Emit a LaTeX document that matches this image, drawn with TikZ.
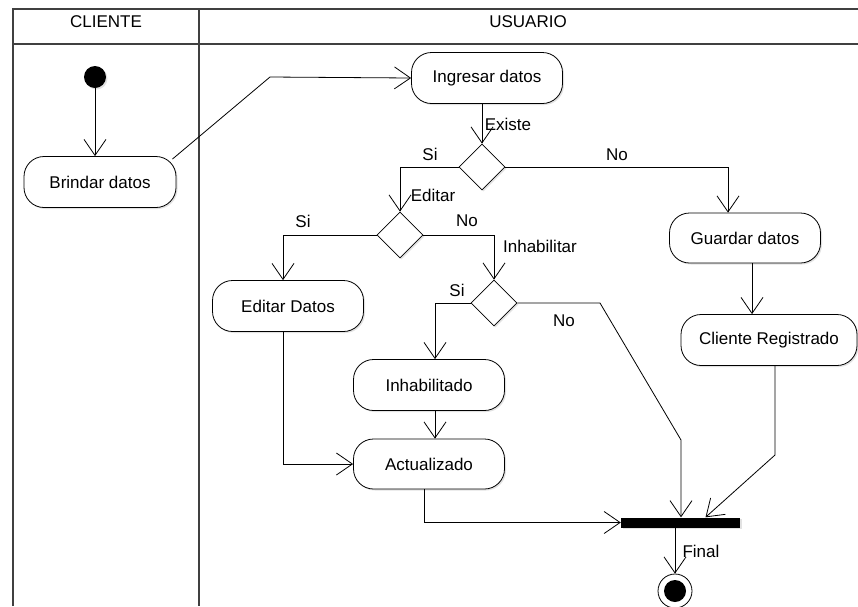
\documentclass[tikz,border=0pt]{standalone}
\usepackage{fontspec}
\setmainfont{Liberation Sans}
\usetikzlibrary{arrows.meta,shapes.geometric,shadows}
\begin{document}
\begin{tikzpicture}[x=1pt,y=-1pt,
  lane/.style={draw=black!75,line width=1.3pt},
  shade/.style={drop shadow={shadow xshift=1.5pt,shadow yshift=-1.5pt,fill=black!22}},
  activity/.style={draw,line width=0.8pt,rounded corners=20pt,minimum height=51pt,
    minimum width=151pt,inner sep=0pt,fill=white,shade,font=\fontsize{17}{20}\selectfont},
  choice/.style={diamond,draw,line width=0.8pt,minimum width=46pt,minimum height=46pt,
    inner sep=0pt,fill=white,shade},
  flow/.style={draw,line width=0.8pt,-{Straight Barb[length=16pt,width=22pt,line width=0.8pt]}},
  plain/.style={draw,line width=0.8pt},
  guard/.style={font=\fontsize{17}{20}\selectfont,inner sep=0pt},
]
\clip (0,0) rectangle (858,606);
\fill[white] (0,0) rectangle (858,606);

% swimlanes
\draw[lane] (13,606) -- (13,9) -- (858,9);
\draw[lane] (13,44) -- (858,44);
\draw[lane] (199,9) -- (199,606);
\node[guard] (laneA) at (106,22) {CLIENTE};
\node[guard] (laneB) at (528,22) {USUARIO};

% nodes
\node[circle,fill=black,minimum size=22pt,inner sep=0pt,shade] (start) at (95,77) {};
\node[activity,minimum width=152pt] (brindar) at (100,182) {Brindar datos};
\node[activity] (ingresar) at (487,78) {Ingresar datos};
\node[choice] (d1) at (482,167) {};
\node[choice] (d2) at (400,235) {};
\node[choice] (d3) at (494,303) {};
\node[activity,minimum height=50pt] (guardar) at (745,238) {Guardar datos};
\node[activity,minimum width=176pt] (cliente) at (769,340) {Cliente Registrado};
\node[activity] (editar) at (288,306) {Editar Datos};
\node[activity] (inhab) at (429,385) {Inhabilitado};
\node[activity,minimum height=50pt] (actual) at (429,464) {Actualizado};
\node[fill=black,minimum width=119pt,minimum height=10pt,inner sep=0pt,shade] (bar) at (680.5,522.5) {};
\node[circle,draw,line width=0.8pt,fill=white,minimum size=34pt,inner sep=0pt,
  path picture={\fill[black] (path picture bounding box.center) circle (11pt);}] (final) at (675,591) {};

% helper points on node borders
\coordinate (g1) at ([xshift=7pt]guardar.south);
\coordinate (c1) at ([xshift=6pt]cliente.south);
\coordinate (e1) at ([xshift=-5pt]editar.north);
\coordinate (e2) at ([xshift=-5pt]editar.south);
\coordinate (i1) at ([xshift=6pt]inhab.north);
\coordinate (i2) at ([xshift=6pt]inhab.south);
\coordinate (a1) at ([xshift=-5pt]actual.south);
\coordinate (gn) at ([xshift=-17pt]guardar.north);
\coordinate (b1) at ([xshift=25pt]bar.north);
\coordinate (b2) at ([xshift=-5.5pt]bar.south);

% connectors
\draw[flow] (start) -- (start |- brindar.north);
\draw[flow] ([shift={(-4,3)}]brindar.north east) -- (270,77) -- (ingresar.west);
\draw[flow] (d1.north |- ingresar.south) -- (d1.north);
\draw[flow] (d1.west) -| (d2.north);
\draw[flow] (d1.east) -| (gn);
\draw[flow] (g1) -- (g1 |- cliente.north);
\draw[flow] (c1) -- (775,455) -- (b1);
\draw[flow] (d2.west) -| (e1);
\draw[flow] (d2.east) -| (d3.north);
\draw[flow] (d3.west) -| (i1);
\draw[flow] (d3.east) -- (600,303) -- (681,440) -- (bar.north -| 681,0);
\draw[flow] (i2) -- (i2 |- actual.north);
\draw[flow] (e2) |- (actual.west);
\draw[flow] (a1) |- (bar.west);
\draw[flow] (b2) -- (b2 |- final.north);

% guard labels
\node[guard] (lExiste) at (508,124) {Existe};
\node[guard] (lSi1) at (430,154) {Si};
\node[guard] (lNo1) at (617,155) {No};
\node[guard] (lEditar) at (433,195) {Editar};
\node[guard] (lSi2) at (303,221) {Si};
\node[guard] (lNo2) at (467,221) {No};
\node[guard] (lInhab) at (540,246) {Inhabilitar};
\node[guard] (lSi3) at (457,290) {Si};
\node[guard] (lNo3) at (564,321) {No};
\node[guard] (lFinal) at (701,551) {Final};
\end{tikzpicture}
\end{document}
